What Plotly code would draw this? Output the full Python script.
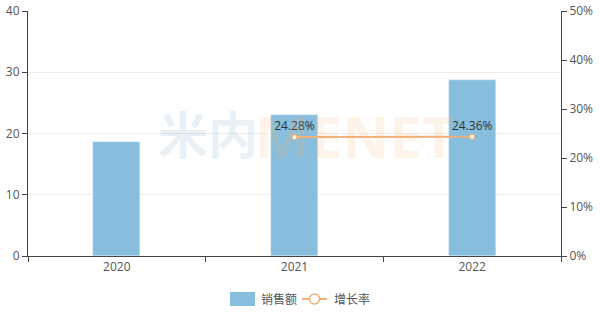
import plotly.graph_objects as go

years = ["2020", "2021", "2022"]
sales = [18.6, 23.1, 28.7]
growth = [None, 24.28, 24.36]
growth_labels = ["", "24.28%", "24.36%"]
left_ticks = [0, 10, 20, 30, 40]
right_ticks = [0, 10, 20, 30, 40, 50]
right_tick_text = ["0%", "10%", "20%", "30%", "40%", "50%"]

BAR = "#87BEDE"
LINE = "#EFB078"
AXIS = "#444444"
TXT = "#555555"
FONT = "Open Sans, Noto Sans CJK SC, sans-serif"

L, R, T, B = 28, 39, 11, 61
PW, PH = 600 - L - R, 317 - T - B


def px(x):
    return (x - L) / PW


def py(y):
    return (317 - B - y) / PH


fig = go.Figure()
fig.add_trace(go.Bar(x=years, y=sales, marker_color=BAR, width=0.265, name="销售额",
                     showlegend=False))
fig.add_trace(go.Scatter(x=years, y=growth, yaxis="y2", mode="lines+markers+text",
                         text=growth_labels, textposition="top center",
                         textfont=dict(size=12, color="#333333", family=FONT),
                         line=dict(color=LINE, width=2),
                         marker=dict(symbol="circle", size=5, color="white",
                                     line=dict(color=LINE, width=1.2)),
                         name="增长率", showlegend=False, cliponaxis=False))

# watermark
fig.add_annotation(xref="paper", yref="paper", x=px(208), y=py(135), text="<b>米内</b>",
                   showarrow=False, font=dict(size=50, color="rgba(150,185,210,0.20)", family=FONT))
fig.add_annotation(xref="paper", yref="paper", x=px(355), y=py(135), text="<b>MENET</b>",
                   showarrow=False, font=dict(size=58, color="rgba(250,180,120,0.16)", family="Open Sans"))

# custom legend
ly = 299
fig.add_shape(type="rect", xref="paper", yref="paper", x0=px(230), x1=px(255),
              y0=py(292), y1=py(306), fillcolor=BAR, line=dict(width=0), layer="above")
fig.add_annotation(xref="paper", yref="paper", x=px(259), y=py(ly), xanchor="left",
                   yanchor="middle", text="销售额", showarrow=False,
                   font=dict(size=12, color=TXT, family=FONT))
fig.add_shape(type="line", xref="paper", yref="paper", x0=px(302), x1=px(327),
              y0=py(ly), y1=py(ly), line=dict(color=LINE, width=2))
fig.add_shape(type="circle", xref="paper", yref="paper", xsizemode="pixel", ysizemode="pixel",
              xanchor=px(314.5), yanchor=py(ly), x0=-5, x1=5, y0=-5, y1=5,
              fillcolor="white", line=dict(color=LINE, width=1.5), layer="above")
fig.add_annotation(xref="paper", yref="paper", x=px(332), y=py(ly), xanchor="left",
                   yanchor="middle", text="增长率", showarrow=False,
                   font=dict(size=12, color=TXT, family=FONT))

fig.update_layout(
    width=600, height=317,
    margin=dict(l=L, r=R, t=T, b=B, autoexpand=False),
    paper_bgcolor="white", plot_bgcolor="white",
    font=dict(family=FONT, size=12, color=TXT),
    bargap=0,
    xaxis=dict(type="category", tickson="boundaries", ticks="outside", ticklen=5,
               tickcolor=AXIS, showline=True, linecolor=AXIS, linewidth=1,
               showgrid=False, automargin=False, tickfont=dict(size=12, color=TXT)),
    yaxis=dict(range=[0, 40], tickvals=left_ticks, ticks="outside", ticklen=5, tickcolor=AXIS,
               showline=True, linecolor=AXIS, linewidth=1, gridcolor="#EEEEEE",
               zeroline=False, automargin=False, tickfont=dict(size=12, color=TXT)),
    yaxis2=dict(range=[0, 50], tickmode="array", tickvals=right_ticks, ticktext=right_tick_text,
                overlaying="y", side="right",
                ticks="outside", ticklen=5, tickcolor=AXIS, showline=True, linecolor=AXIS,
                linewidth=1, showgrid=False, zeroline=False, automargin=False,
                tickfont=dict(size=12, color=TXT)),
)

fig.write_html("out.html")
